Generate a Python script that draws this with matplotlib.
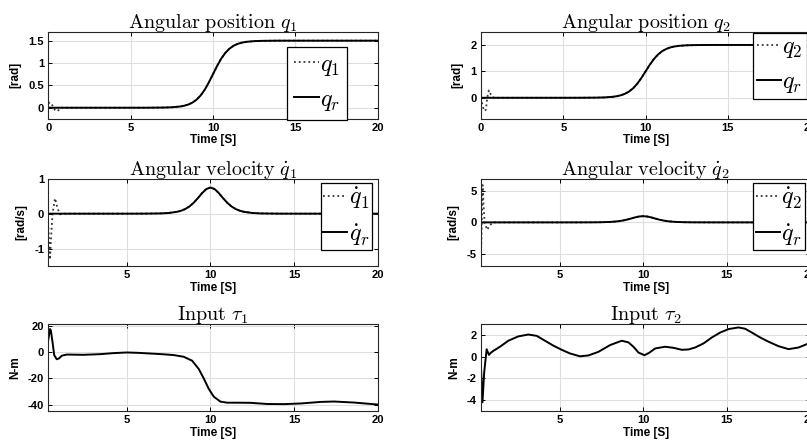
import matplotlib
matplotlib.use('Agg')
import matplotlib.pyplot as plt
import numpy as np

plt.rcParams['mathtext.fontset'] = 'cm'
plt.rcParams['font.family'] = 'Liberation Sans'
plt.rcParams['axes.unicode_minus'] = False

# reference trajectory (shared time base)
t_ref = [0, 1, 2, 3, 4, 5, 6, 7, 7.5, 8, 8.25, 8.5, 8.75, 9, 9.25, 9.5, 9.75,
         10, 10.25, 10.5, 10.75, 11, 11.25, 11.5, 11.75, 12, 12.5, 13, 14, 15,
         16, 17, 18, 19, 20]
q1_ref = [0, 0, 0, 0, 0, 0, 0.0005, 0.004, 0.010, 0.027, 0.044, 0.071, 0.114,
          0.179, 0.274, 0.403, 0.566, 0.75, 0.934, 1.097, 1.226, 1.321, 1.386,
          1.429, 1.456, 1.473, 1.490, 1.496, 1.5, 1.5, 1.5, 1.5, 1.5, 1.5, 1.5]
q2_ref = [0, 0, 0, 0, 0, 0, 0.0007, 0.005, 0.013, 0.036, 0.059, 0.095, 0.152,
          0.238, 0.365, 0.537, 0.755, 1.0, 1.245, 1.463, 1.635, 1.762, 1.848,
          1.905, 1.941, 1.964, 1.987, 1.995, 2.0, 2.0, 2.0, 2.0, 2.0, 2.0, 2.0]
dq1_ref = [0, 0, 0, 0, 0, 0, 0.001, 0.007, 0.020, 0.053, 0.085, 0.135, 0.210,
           0.315, 0.447, 0.590, 0.706, 0.75, 0.706, 0.590, 0.447, 0.315, 0.210,
           0.135, 0.085, 0.053, 0.020, 0.007, 0.001, 0, 0, 0, 0, 0, 0]
dq2_ref = [0, 0, 0, 0, 0, 0, 0.001, 0.010, 0.026, 0.071, 0.113, 0.180, 0.280,
           0.420, 0.596, 0.787, 0.941, 1.0, 0.941, 0.787, 0.596, 0.420, 0.280,
           0.180, 0.113, 0.071, 0.026, 0.010, 0.001, 0, 0, 0, 0, 0, 0]

# initial transients of the actual states (afterwards they sit on the reference)
t_q1 = [0, 0.1, 0.2, 0.3, 0.4, 0.5, 0.6, 0.7, 0.8]
q1_tr = [0.10, 0.12, 0.08, 0.02, -0.05, -0.08, -0.06, -0.02, 0.0]
t_q2 = [0, 0.1, 0.2, 0.3, 0.38, 0.48, 0.6, 0.7, 0.8]
q2_tr = [0, -0.3, -0.5, -0.45, 0.0, 0.28, 0.12, 0.03, 0.0]
t_dq1 = [0.3, 0.35, 0.4, 0.45, 0.55, 0.7, 0.85, 1.0, 1.15]
dq1_tr = [-0.4, -0.9, -1.32, -0.8, 0.0, 0.44, 0.15, -0.02, 0.0]
t_dq2 = [0.3, 0.35, 0.4, 0.45, 0.52, 0.67, 0.8, 1.0]
dq2_tr = [-5.0, 0.0, 6.0, 3.0, 0.0, -1.2, -0.6, 0.0]

# control inputs
t_tau1 = [0.3, 0.4, 0.45, 0.55, 0.65, 0.8, 0.95, 1.1, 1.4, 2.4, 3.4, 4.2, 5.0,
          5.7, 6.4, 7.2, 7.8, 8.4, 8.9, 9.3, 9.6, 9.9, 10.2, 10.6, 11.0, 11.5,
          12.4, 13.4, 14.4, 15.4, 16.6, 17.4, 18.6, 20]
tau1 = [10, 18, 17, 8, -2, -5.2, -4.5, -2.5, -1.6, -1.8, -1.3, -0.5, 0, -0.3,
        -0.8, -1.4, -2, -3.3, -6.3, -12.7, -20, -28, -34, -37.8, -38.6, -38.6,
        -38.7, -39.6, -39.7, -39.2, -38.0, -37.7, -38.5, -40]
t_tau2 = [0.26, 0.35, 0.45, 0.6, 0.74, 0.85, 1.0, 1.4, 1.9, 2.5, 3.1, 3.6, 4.1,
          4.6, 5.1, 5.6, 6.2, 6.7, 7.3, 8.0, 8.7, 9.1, 9.4, 9.7, 10.06, 10.35,
          10.7, 11.3, 11.8, 12.3, 12.7, 13.1, 13.6, 14.1, 14.6, 15.1, 15.7,
          16.1, 16.5, 17.0, 17.5, 18.1, 18.7, 19.3, 19.8, 20]
tau2 = [-1.0, -4.2, -1.5, 0.67, 0.15, 0.35, 0.52, 0.9, 1.45, 1.85, 2.02, 1.9,
        1.45, 1.0, 0.62, 0.28, 0.02, 0.1, 0.43, 1.05, 1.45, 1.3, 0.9, 0.37,
        0.12, 0.35, 0.74, 0.9, 0.8, 0.62, 0.65, 0.83, 1.2, 1.75, 2.2, 2.52,
        2.67, 2.55, 2.2, 1.75, 1.36, 0.95, 0.68, 0.83, 1.14, 1.25]


def actual(t_tr, y_tr, ref):
    # transient samples followed by the reference samples after them
    t = np.asarray(t_ref)
    keep = t > t_tr[-1]
    return (np.concatenate([t_tr, t[keep]]),
            np.concatenate([y_tr, np.asarray(ref)[keep]]))


def style(ax, xlim, ylim, yticks, ylabel, title):
    ax.set_xlim(*xlim)
    ax.set_ylim(*ylim)
    ax.set_xticks([v for v in [0, 5, 10, 15, 20] if v >= xlim[0]])
    ax.set_yticks(yticks)
    ax.set_yticklabels([f"{v:g}" for v in yticks])
    ax.tick_params(direction="in", top=True, right=True, length=3, width=0.7,
                   labelsize=8, pad=3)
    for lab in ax.get_xticklabels() + ax.get_yticklabels():
        lab.set_fontweight("bold")
    ax.grid(True, color="#dedede", linewidth=0.8)
    ax.set_axisbelow(True)
    for s in ax.spines.values():
        s.set_linewidth(0.8)
        s.set_color("#262626")
    ax.set_xlabel("Time [S]", fontsize=8.5, fontweight="bold", labelpad=1)
    ax.set_ylabel(ylabel, fontsize=8.5, fontweight="bold", labelpad=5)
    ax.set_title(title, fontsize=14.5, pad=3)


def add_legend(ax, labels, anchor, pad=0.15):
    leg = ax.legend(labels, loc="upper left", bbox_to_anchor=anchor,
                    fontsize=17.5, handlelength=1.0, handletextpad=0.05,
                    borderpad=pad, labelspacing=0.45, borderaxespad=0,
                    fancybox=False, framealpha=1, edgecolor="black")
    leg.get_frame().set_linewidth(0.9)


fig = plt.figure(figsize=(8.07, 4.47), dpi=100)
lx, rx, w = 0.0599, 0.596, 0.408
rows = [0.734, 0.405, 0.0805]
h = 0.195

dot = dict(color="#333333", linestyle=":", linewidth=1.3)
sol = dict(color="black", linewidth=1.4)

# row 1: positions
ax = fig.add_axes([lx, rows[0], w, h])
tx, yx = actual(t_q1, q1_tr, q1_ref)
ax.plot(tx, yx, **dot)
ax.plot(t_ref, q1_ref, **sol)
style(ax, (0, 20), (-0.25, 1.7), [0, 0.5, 1, 1.5], "[rad]",
      r"$\mathrm{Angular\ position}\ q_1$")
add_legend(ax, [r"$q_1$", r"$q_r$"], (0.725, 0.83), pad=0.3)

ax = fig.add_axes([rx, rows[0], w, h])
tx, yx = actual(t_q2, q2_tr, q2_ref)
ax.plot(tx, yx, **dot)
ax.plot(t_ref, q2_ref, **sol)
style(ax, (0, 20), (-0.8, 2.5), [0, 1, 2], "[rad]",
      r"$\mathrm{Angular\ position}\ q_2$")
add_legend(ax, [r"$q_2$", r"$q_r$"], (0.827, 0.99))

# row 2: velocities
ax = fig.add_axes([lx, rows[1], w, h])
tx, yx = actual(t_dq1, dq1_tr, dq1_ref)
ax.plot(tx, yx, **dot)
ax.plot(t_ref, dq1_ref, **sol)
style(ax, (0.3, 20), (-1.5, 1), [-1, 0, 1], "[rad/s]",
      r"$\mathrm{Angular\ velocity}\ \dot{q}_1$")
add_legend(ax, [r"$\dot{q}_1$", r"$\dot{q}_r$"], (0.827, 0.955), pad=0.1)

ax = fig.add_axes([rx, rows[1], w, h])
tx, yx = actual(t_dq2, dq2_tr, dq2_ref)
ax.plot(tx, yx, **dot)
ax.plot(t_ref, dq2_ref, **sol)
style(ax, (0.3, 20), (-7, 7), [-5, 0, 5], "[rad/s]",
      r"$\mathrm{Angular\ velocity}\ \dot{q}_2$")
add_legend(ax, [r"$\dot{q}_2$", r"$\dot{q}_r$"], (0.827, 0.955), pad=0.1)

# row 3: inputs
ax = fig.add_axes([lx, rows[2], w, h])
ax.plot(t_tau1, tau1, **sol)
style(ax, (0.3, 20), (-45, 22), [-40, -20, 0, 20], "N-m",
      r"$\mathrm{Input}\ \tau_1$")

ax = fig.add_axes([rx, rows[2], w, h])
ax.plot(t_tau2, tau2, **sol)
style(ax, (0.26, 20), (-5, 3), [-4, -2, 0, 2], "N-m",
      r"$\mathrm{Input}\ \tau_2$")

fig.savefig("out.png", dpi=100)
